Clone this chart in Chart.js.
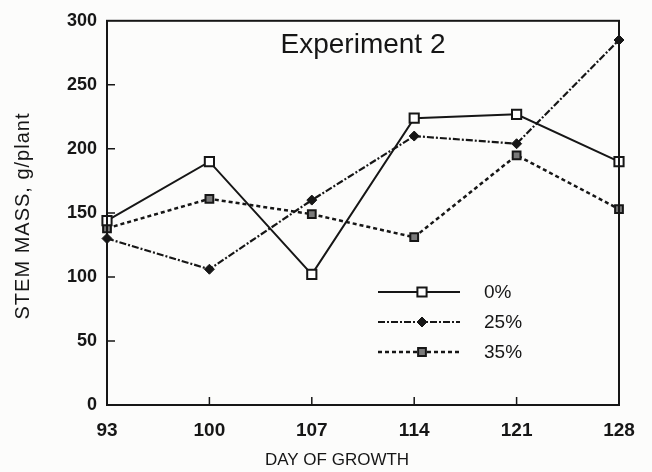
<!DOCTYPE html>
<html>
<head>
  <title>Stem Mass</title>
  <style>
    html, body {
      margin: 0;
      padding: 0;
      background: #fcfcfb;
    }
    #chartBox {
      width: 652px;
      height: 472px;
    }
  </style>
</head>
<body>
  <div id="chartBox"><canvas id="stemChart"></canvas></div>

  <script src="https://cdn.jsdelivr.net/npm/chart.js@4.4.1/dist/chart.umd.min.js"></script>

  <script>
    // values
    const days = [93, 100, 107, 114, 121, 128];
    const seriesNames = ['0%', '25%', '35%'];
    const mass0 = [144, 190, 102, 224, 227, 190];
    const mass25 = [130, 106, 160, 210, 204, 285];
    const mass35 = [138, 161, 149, 131, 195, 153];
    const yTicks = [0, 50, 100, 150, 200, 250, 300];
    const chartTitle = 'Experiment 2';
    const xTitle = 'DAY OF GROWTH';
    const yTitle = 'STEM MASS, g/plant';

    const ink = '#161616';
    const font = 'Liberation Sans, Arial, sans-serif';

    function toPoints(vals) {
      return days.map((d, i) => ({ x: d, y: vals[i] }));
    }

    // frame, inward ticks, title, axis titles and legend
    const decor = {
      id: 'decor',
      afterDatasetsDraw(chart) {
        const ctx = chart.ctx;
        const a = chart.chartArea;
        const xs = chart.scales.x;
        const ys = chart.scales.y;
        ctx.save();
        ctx.strokeStyle = ink;
        ctx.lineWidth = 2;
        ctx.strokeRect(a.left, a.top, a.right - a.left, a.bottom - a.top);

        ctx.lineWidth = 1.5;
        ctx.beginPath();
        yTicks.slice(1, -1).forEach(v => {
          const py = ys.getPixelForValue(v);
          ctx.moveTo(a.left, py);
          ctx.lineTo(a.left + 8, py);
        });
        days.slice(1, -1).forEach(d => {
          const px = xs.getPixelForValue(d);
          ctx.moveTo(px, a.bottom);
          ctx.lineTo(px, a.bottom - 8);
        });
        ctx.stroke();

        ctx.fillStyle = ink;
        ctx.textAlign = 'center';
        ctx.textBaseline = 'middle';
        ctx.font = '28px ' + font;
        ctx.fillText(chartTitle, 363, 45);

        ctx.font = '17px ' + font;
        ctx.fillText(xTitle, 337, 460);

        ctx.save();
        ctx.translate(23, 216);
        ctx.rotate(-Math.PI / 2);
        ctx.font = '20px ' + font;
        ctx.letterSpacing = '1px';
        ctx.fillText(yTitle, 0, 0);
        ctx.restore();

        // legend
        chart.data.datasets.forEach((ds, i) => {
          const ly = 292 + i * 30;
          ctx.save();
          ctx.strokeStyle = ds.borderColor;
          ctx.lineWidth = ds.borderWidth;
          ctx.setLineDash(ds.borderDash || []);
          ctx.beginPath();
          ctx.moveTo(378, ly);
          ctx.lineTo(460, ly);
          ctx.stroke();
          ctx.restore();
          ctx.save();
          ctx.fillStyle = ds.pointBackgroundColor;
          ctx.strokeStyle = ds.pointBorderColor;
          ctx.lineWidth = ds.pointBorderWidth;
          Chart.helpers.drawPoint(ctx, {
            pointStyle: ds.pointStyle,
            radius: ds.pointRadius,
            borderWidth: ds.pointBorderWidth,
            rotation: 0
          }, 422, ly);
          ctx.restore();
          ctx.fillStyle = ink;
          ctx.textAlign = 'left';
          ctx.font = '19px ' + font;
          ctx.fillText(seriesNames[i], 484, ly + 1);
        });
        ctx.restore();
      }
    };

    new Chart(document.getElementById('stemChart'), {
      type: 'line',
      data: {
        datasets: [
          {
            label: seriesNames[0],
            data: toPoints(mass0),
            borderColor: ink,
            borderWidth: 2,
            pointStyle: 'rect',
            pointRadius: 6.5,
            pointBackgroundColor: '#ffffff',
            pointBorderColor: ink,
            pointBorderWidth: 2,
            clip: false
          },
          {
            label: seriesNames[1],
            data: toPoints(mass25),
            borderColor: ink,
            borderWidth: 2.2,
            borderDash: [7, 2, 2, 2],
            pointStyle: 'rectRot',
            pointRadius: 5,
            pointBackgroundColor: ink,
            pointBorderColor: ink,
            pointBorderWidth: 1,
            clip: false
          },
          {
            label: seriesNames[2],
            data: toPoints(mass35),
            borderColor: ink,
            borderWidth: 2.5,
            borderDash: [4, 3],
            pointStyle: 'rect',
            pointRadius: 5.5,
            pointBackgroundColor: '#7a7a7a',
            pointBorderColor: ink,
            pointBorderWidth: 2,
            clip: false
          }
        ]
      },
      options: {
        responsive: true,
        maintainAspectRatio: false,
        animation: false,
        layout: { padding: { top: 16, right: 33, left: 0, bottom: 0 } },
        plugins: {
          legend: { display: false },
          tooltip: { enabled: false }
        },
        scales: {
          x: {
            type: 'linear',
            min: 93,
            max: 128,
            afterFit(s) { s.height = 67; },
            afterBuildTicks(s) { s.ticks = days.map(v => ({ value: v })); },
            grid: { display: false, drawTicks: false },
            border: { display: false },
            ticks: {
              color: ink,
              padding: 14,
              maxRotation: 0,
              font: { family: font, size: 19, weight: 'bold' }
            }
          },
          y: {
            min: 0,
            max: 300,
            afterFit(s) { s.width = 107; },
            afterBuildTicks(s) { s.ticks = yTicks.map(v => ({ value: v })); },
            grid: { display: false, drawTicks: false },
            border: { display: false },
            ticks: {
              color: ink,
              padding: 10,
              font: { family: font, size: 18, weight: 'bold' }
            }
          }
        }
      },
      plugins: [decor]
    });
  </script>
</body>
</html>
